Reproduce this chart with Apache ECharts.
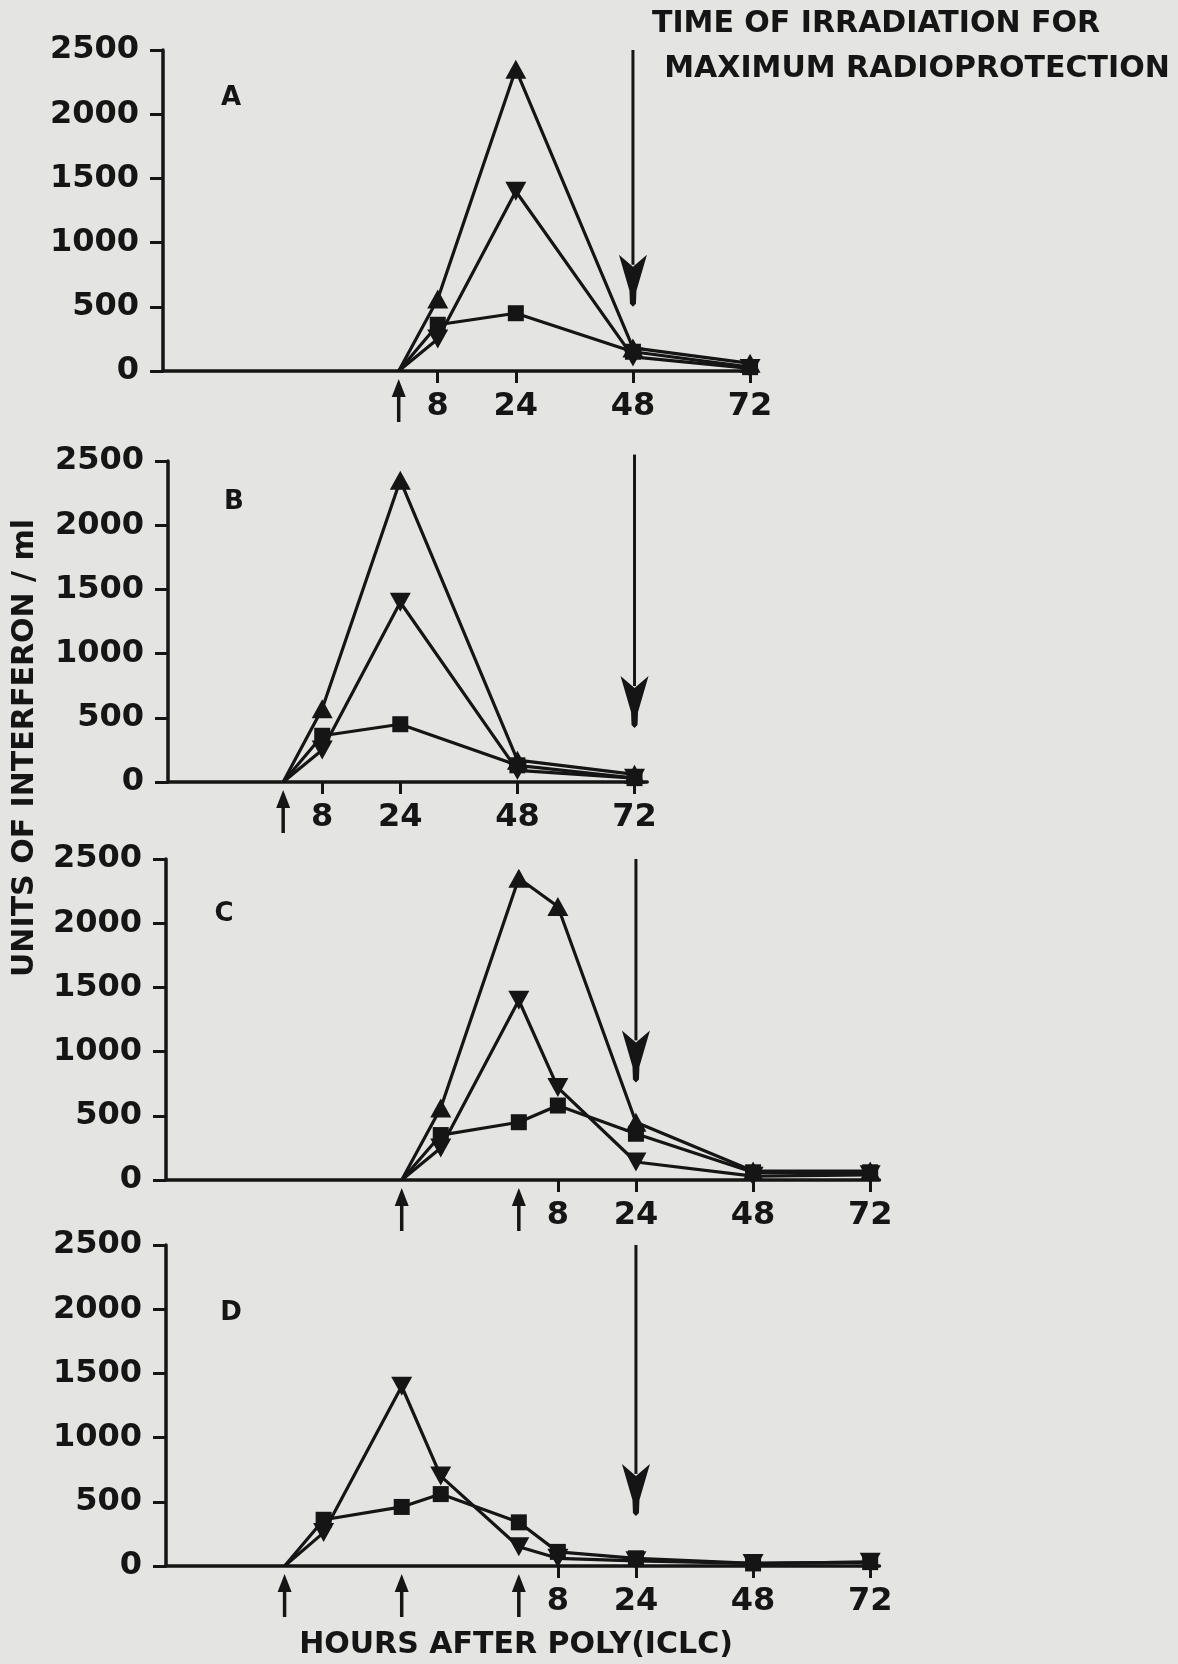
<!DOCTYPE html>
<html>
<head>
<meta charset="utf-8">
<script src="https://cdn.jsdelivr.net/npm/echarts@6/dist/echarts.min.js"></script>
<style>
html, body { margin: 0; padding: 0; background: #e4e4e2; }
#chart { width: 1178px; height: 1664px; }
</style>
</head>
<body>
<div id="chart"></div>
<script>
// hours on one common clock, 0 = first poly(ICLC) injection of panels B and D
const hoursA = [24, 32, 48, 72, 96];
const upA = [0, 560, 2350, 180, 60];
const downA = [0, 250, 1400, 110, 20];
const squareA = [0, 360, 450, 150, 30];

const hoursB = [0, 8, 24, 48, 72];
const upB = [0, 570, 2350, 170, 60];
const downB = [0, 250, 1400, 90, 30];
const squareB = [0, 360, 450, 130, 30];

const hoursC = [24, 32, 48, 56, 72, 96, 120];
const upC = [0, 560, 2350, 2130, 450, 70, 70];
const downC = [0, 250, 1400, 720, 140, 30, 40];
const squareC = [0, 350, 450, 580, 360, 60, 60];

const hoursD = [0, 8, 24, 32, 48, 56, 72, 96, 120];
const downD = [0, 260, 1400, 700, 150, 60, 40, 20, 30];
const squareD = [0, 360, 460, 560, 340, 110, 60, 20, 30];

// labelled hours of each x axis (hours after the last injection)
const tickHoursA = [32, 48, 72, 96];
const tickHoursB = [8, 24, 48, 72];
const tickHoursCD = [56, 72, 96, 120];
const tickLabels = ['8', '24', '48', '72'];

// injections (small arrows) and time of irradiation (big arrows)
const injectA = [24];
const injectB = [0];
const injectC = [24, 48];
const injectD = [0, 24, 48];
const irradiationHour = 72;
const irradiationFrom = [2500, 2550, 2500, 2500];
const irradiationTo = [500, 420, 760, 390];

const panelLetters = ['A', 'B', 'C', 'D'];

const ink = '#151515';
const font = 'DejaVu Sans';
const PXH = 4.88; // px per hour

const panels = [
    { left: 163, top: 50, min: -24.3, max: 97.5, hours: hoursA, ticks: tickHoursA, inject: injectA,
      lines: [['up', upA], ['down', downA], ['square', squareA]] },
    { left: 168, top: 461, min: -23.6, max: 74.6, hours: hoursB, ticks: tickHoursB, inject: injectB,
      lines: [['up', upB], ['down', downB], ['square', squareB]] },
    { left: 166, top: 859, min: -24.3, max: 121.9, hours: hoursC, ticks: tickHoursCD, inject: injectC,
      lines: [['up', upC], ['down', downC], ['square', squareC]] },
    { left: 166, top: 1245, min: -24.3, max: 121.9, hours: hoursD, ticks: tickHoursCD, inject: injectD,
      lines: [['down', downD], ['square', squareD]] }
];

const markers = {
    up: { symbol: 'triangle', symbolSize: [21, 19], symbolRotate: 0 },
    down: { symbol: 'triangle', symbolSize: [21, 19], symbolRotate: 180 },
    square: { symbol: 'rect', symbolSize: 16, symbolRotate: 0 }
};

const labelText = { fontFamily: font, fontWeight: 'bold', fontSize: 32, color: ink };

const series = [];
panels.forEach((p, i) => {
    p.lines.forEach(([kind, vals]) => {
        series.push({
            type: 'line',
            xAxisIndex: i,
            yAxisIndex: i,
            symbol: markers[kind].symbol,
            symbolSize: markers[kind].symbolSize,
            symbolRotate: markers[kind].symbolRotate,
            showAllSymbol: true,
            clip: false,
            lineStyle: { color: ink, width: 3.2 },
            itemStyle: { color: ink },
            data: p.hours.map((h, k) => k === 0 ? { value: [h, vals[k]], symbol: 'none' } : [h, vals[k]])
        });
    });
});

const chart = echarts.init(document.getElementById('chart'));
chart.setOption({
    backgroundColor: '#e4e4e2',
    animation: false,
    grid: panels.map(p => ({ left: p.left, top: p.top, width: (p.max - p.min) * PXH, height: 321 })),
    xAxis: panels.map((p, i) => ({
        type: 'value',
        gridIndex: i,
        min: p.min,
        max: p.max,
        axisLine: { show: true, onZero: false, lineStyle: { color: ink, width: 3.5 } },
        axisTick: { show: true, customValues: p.ticks, length: 12, lineStyle: { color: ink, width: 3 } },
        axisLabel: Object.assign({
            customValues: p.ticks,
            margin: 20,
            formatter: v => tickLabels[p.ticks.indexOf(v)]
        }, labelText),
        splitLine: { show: false }
    })),
    yAxis: panels.map((p, i) => ({
        type: 'value',
        gridIndex: i,
        min: 0,
        max: 2500,
        interval: 500,
        axisLine: { show: true, onZero: false, lineStyle: { color: ink, width: 3.5 } },
        axisTick: { show: true, length: 13, lineStyle: { color: ink, width: 3 } },
        axisLabel: Object.assign({ margin: 24, formatter: v => String(v) }, labelText),
        splitLine: { show: false }
    })),
    series: series
});

// arrows are placed through the axes of each panel
const graphics = [];
const letterPos = [[231, 98], [234, 502], [224, 914], [231, 1313]];
panels.forEach((p, i) => {
    const top = chart.convertToPixel({ gridIndex: i }, [irradiationHour, irradiationFrom[i]]);
    const tip = chart.convertToPixel({ gridIndex: i }, [irradiationHour, irradiationTo[i]]);
    const ax = top[0], ay = top[1], by = tip[1];
    graphics.push({ type: 'line', shape: { x1: ax, y1: ay, x2: ax, y2: by - 42 }, style: { stroke: ink, lineWidth: 3 } });
    graphics.push({ type: 'polygon', shape: { points: [
        [ax - 14, by - 52], [ax, by - 40], [ax + 14, by - 52], [ax + 3.5, by - 16],
        [ax + 3, by - 3], [ax, by], [ax - 3, by - 3], [ax - 3.5, by - 16]
    ] }, style: { fill: ink } });

    p.inject.forEach(h => {
        const pt = chart.convertToPixel({ gridIndex: i }, [h, 0]);
        const x = pt[0], y0 = pt[1];
        graphics.push({ type: 'line', shape: { x1: x, y1: y0 + 20, x2: x, y2: y0 + 51 }, style: { stroke: ink, lineWidth: 3.5 } });
        graphics.push({ type: 'polygon', shape: { points: [[x, y0 + 8], [x + 7, y0 + 26], [x - 7, y0 + 26]] }, style: { fill: ink } });
    });

    graphics.push({ type: 'text', x: letterPos[i][0], y: letterPos[i][1], style: {
        text: panelLetters[i], fontFamily: font, fontWeight: 'bold', fontSize: 26, fill: ink,
        align: 'center', verticalAlign: 'middle' } });
});

const headText = (text, x, y, rotation) => ({
    type: 'text', x: x, y: y, rotation: rotation || 0,
    style: { text: text, fontFamily: font, fontWeight: 'bold', fontSize: 30, fill: ink, align: 'center', verticalAlign: 'middle' }
});
graphics.push(headText('TIME OF IRRADIATION FOR', 876, 24));
graphics.push(headText('MAXIMUM RADIOPROTECTION', 917, 69));
graphics.push(headText('UNITS OF INTERFERON / ml', 25, 748, Math.PI / 2));
graphics.push(headText('HOURS AFTER POLY(ICLC)', 516, 1645));

chart.setOption({ graphic: graphics });
</script>
</body>
</html>
